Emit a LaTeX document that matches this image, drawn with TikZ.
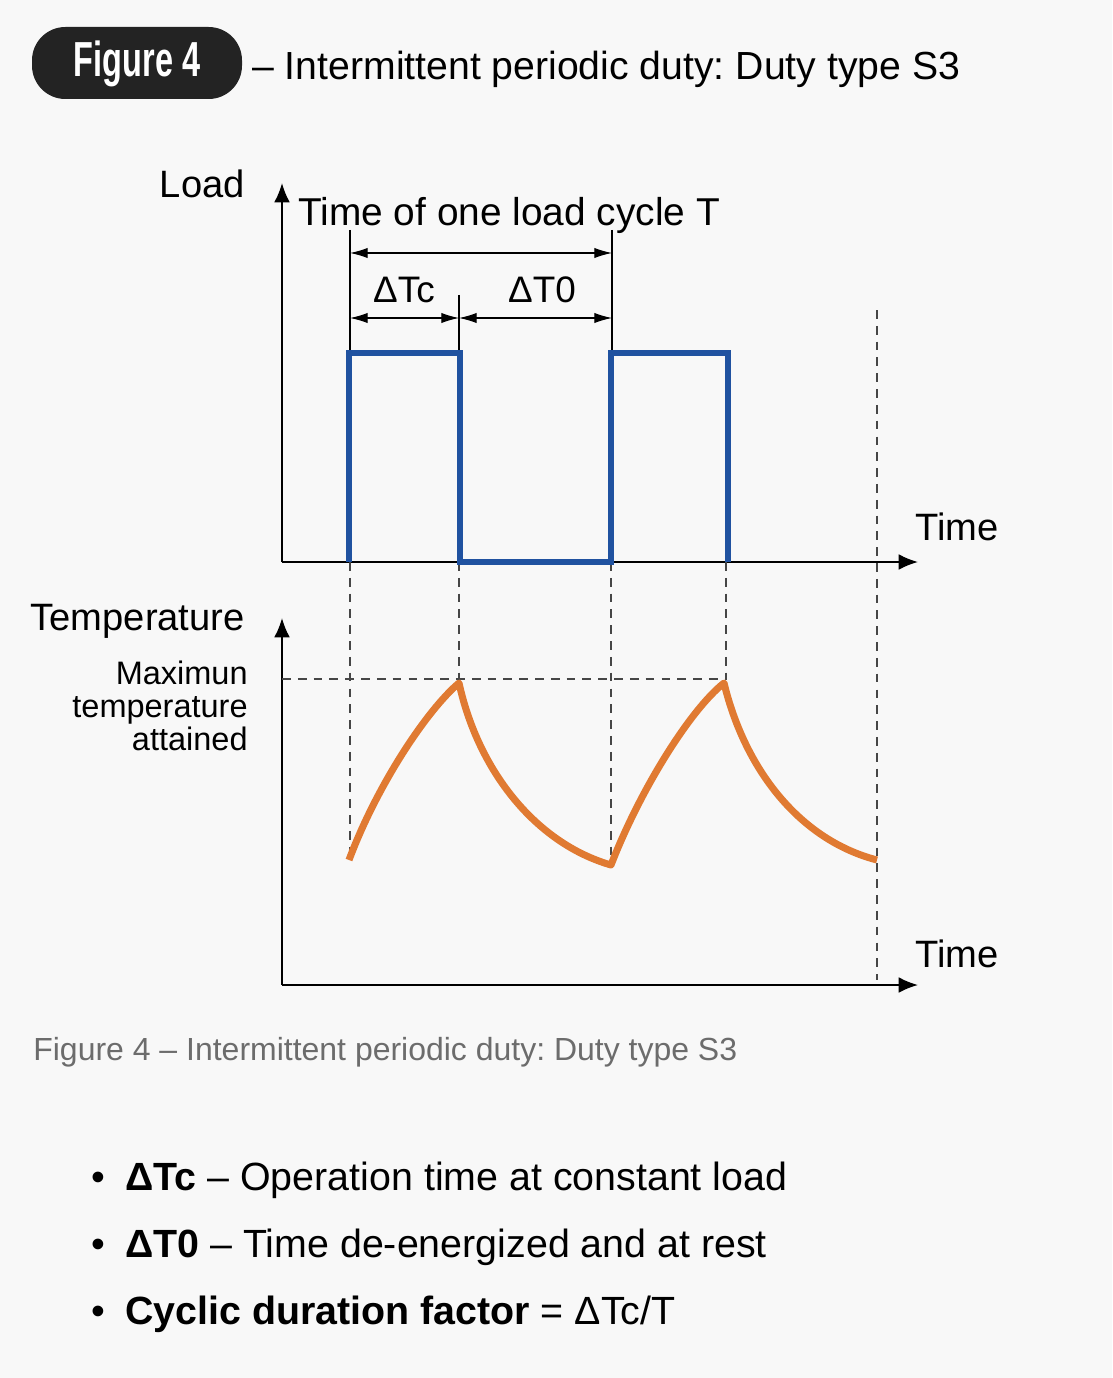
\documentclass[tikz,border=0pt]{standalone}
\usepackage{fontspec}
\setmainfont{Liberation Sans}
\newfontfamily\pillfont[FakeStretch=0.66]{Liberation Sans}
\usetikzlibrary{arrows.meta}
\definecolor{pagebg}{RGB}{248,248,248}
\definecolor{pill}{RGB}{35,35,35}
\definecolor{load}{RGB}{32,82,160}
\definecolor{heat}{RGB}{224,122,50}
\definecolor{guide}{RGB}{70,70,70}
\definecolor{capgray}{RGB}{108,108,108}
\frenchspacing

\begin{document}
\begin{tikzpicture}[x=0.02cm, y=-0.02cm,
	axis/.style={line width=1.1pt, -{Latex[length=11pt,width=9pt]}},
	dim/.style={line width=0.6pt, {Latex[length=10pt,width=5.8pt]}-{Latex[length=10pt,width=5.8pt]}},
	guide/.style={color=guide, line width=0.85pt, dash pattern=on 5pt off 4pt},
	lbl/.style={inner sep=0pt, font=\fontsize{21.7}{25}\selectfont},
	item/.style={inner sep=0pt, anchor=base west, font=\fontsize{22.4}{26}\selectfont}]
			\fill[pagebg] (0,0) rectangle (1112,1378);
			\useasboundingbox (0,0) rectangle (1112,1378);
			% heading
			\fill[pill, rounded corners=19pt] (32,27) rectangle (242,99);
			\node[text=white, inner sep=0pt, font=\pillfont\bfseries\fontsize{28}{32}\selectfont] (badge) at (137,64) {Figure 4};
			\node[anchor=base west, inner sep=0pt, font=\fontsize{22.3}{26}\selectfont] (title) at (252,80) {– Intermittent periodic duty: Duty type S3};
			% axes
			\coordinate (lo) at (282,562);
			\coordinate (to) at (282,985);
			\draw[axis] (lo) -- (282,183);
			\draw[axis] (lo) -- (918,562);
			\draw[axis] (to) -- (282,618);
			\draw[axis] (to) -- (918,985);
			\node[lbl, anchor=base east] (load) at (245,198) {Load};
			\node[lbl, anchor=base west] (time1) at (915,540) {Time};
			\node[lbl, anchor=base east] (temp) at (245,630) {Temperature};
			\node[lbl, anchor=base west] (time2) at (915,967) {Time};
			\node[inner sep=0pt, anchor=north east, align=right, font=\fontsize{18.5}{18.7}\selectfont] (tmax) at (248,661) {Maximun\\temperature\\attained};
			% guide lines
			\draw[guide] (350,562) -- (350,860);
			\draw[guide] (459,562) -- (459,680);
			\draw[guide] (611,562) -- (611,862);
			\draw[guide] (726,562) -- (726,680);
			\draw[guide] (877,310) -- (877,980);
			\draw[guide] (282,679) -- (726,679);
			% cycle dimensions
			\draw[line width=0.6pt] (350,230) -- (350,353);
			\draw[line width=0.6pt] (612,230) -- (612,353);
			\draw[line width=0.6pt] (459,295) -- (459,353);
			\draw[dim] (350,253) -- (612,253);
			\draw[dim] (350,318) -- (459,318);
			\draw[dim] (459,318) -- (612,318);
			\node[lbl, anchor=base west, font=\fontsize{22.1}{25}\selectfont] (cycle) at (298,226) {Time of one load cycle T};
			\node[lbl, anchor=base, font=\fontsize{21}{25}\selectfont] (dtc) at (404,302) {ΔTc};
			\node[lbl, anchor=base, font=\fontsize{21}{25}\selectfont] (dt0) at (542,302) {ΔT0};
			% load
			\draw[color=load, line width=3.4pt] (349,562) -- (349,353) -- (460,353) -- (460,562) -- (611,562) -- (611,353) -- (728,353) -- (728,562);
			% temperature
			\draw[color=heat, line width=4pt, line join=round] (349,860) .. controls (377,785) and (427,710) .. (459,683)
				.. controls (478,770) and (535,843) .. (611,865)
				.. controls (640,790) and (690,710) .. (724,683)
				.. controls (745,770) and (800,840) .. (877,860);
			% caption and notes
			\node[anchor=base west, inner sep=0pt, text=capgray, font=\fontsize{18.2}{21}\selectfont] (caption) at (33,1060) {Figure 4 – Intermittent periodic duty: Duty type S3};
			\node[item] (dot1) at (91,1190) {•};
			\node[item] (note1) at (125,1190) {\textbf{ΔTc} – Operation time at constant load};
			\node[item] (dot2) at (91,1257) {•};
			\node[item] (note2) at (125,1257) {\textbf{ΔT0} – Time de-energized and at rest};
			\node[item] (dot3) at (91,1324) {•};
			\node[item] (note3) at (125,1324) {\textbf{Cyclic duration factor} = ΔTc/T};
			\end{tikzpicture}
\end{document}
